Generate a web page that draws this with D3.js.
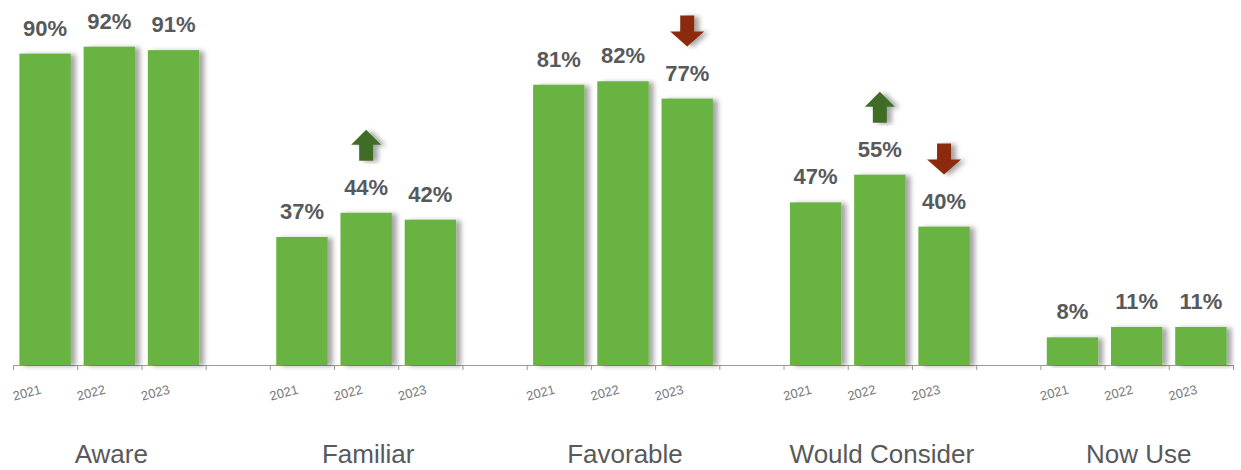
<!DOCTYPE html>
<html>
<head>
<meta charset="utf-8">
<script src="https://cdn.jsdelivr.net/npm/d3@7"></script>
<style>
  body { margin: 0; background: #fff; }
  svg { display: block; font-family: "Liberation Sans", Arial, sans-serif; }
</style>
</head>
<body>
<svg id="chart" width="1241" height="470"></svg>
<script>
const categories = ["Aware", "Familiar", "Favorable", "Would Consider", "Now Use"];
const years      = ["2021", "2022", "2023"];
const v2021      = [90, 37, 81, 47, 8];
const v2022      = [92, 44, 82, 55, 11];
const v2023      = [91, 42, 77, 40, 11];
const arrows     = [
  {cat: "Familiar",       year: "2022", dir: "up"},
  {cat: "Favorable",      year: "2023", dir: "down"},
  {cat: "Would Consider", year: "2022", dir: "up"},
  {cat: "Would Consider", year: "2023", dir: "down"}
];

const svg    = d3.select("#chart"),
      left   = 13,
      right  = 1233,
      base   = 365,
      barCol = "#68b342";

// one slot per year bar, one empty slot between categories
const slots = [];
categories.forEach((c, i) => {
  years.forEach(y => slots.push(c + "|" + y));
  if (i < categories.length - 1) slots.push("gap" + i);
});

const x = d3.scaleBand().domain(slots).range([left, right]).padding(0);
const y = d3.scaleLinear().domain([0, 100]).range([base, base - 346]);
const xi = d3.scaleLinear().domain([0, slots.length]).range([left, right]);

const series = {"2021": v2021, "2022": v2022, "2023": v2023};
const data = [];
categories.forEach((c, i) => {
  years.forEach(yr => data.push({cat: c, year: yr, value: series[yr][i]}));
});

const defs = svg.append("defs");
const f = defs.append("filter").attr("id", "shadow")
  .attr("x", "-20%").attr("y", "-10%").attr("width", "150%").attr("height", "120%");
f.append("feDropShadow")
  .attr("dx", 5).attr("dy", 1).attr("stdDeviation", 2.5)
  .attr("flood-color", "#000").attr("flood-opacity", 0.35);

// axis line with ticks at slot boundaries
const axis = svg.append("g")
  .attr("transform", `translate(0,${base})`)
  .call(d3.axisBottom(xi).tickValues(d3.range(slots.length + 1))
    .tickFormat("").tickSize(5).tickSizeOuter(0));
axis.select(".domain").attr("stroke", "#9a9a9a");
axis.selectAll(".tick line").attr("stroke", "#9a9a9a");

const bw = x.bandwidth() * 0.8;

svg.append("g").selectAll("rect")
  .data(data)
  .enter().append("rect")
    .attr("x", d => x(d.cat + "|" + d.year) + x.bandwidth() * 0.1)
    .attr("y", d => y(d.value))
    .attr("width", bw)
    .attr("height", d => base - y(d.value))
    .attr("fill", barCol)
    .attr("filter", "url(#shadow)");

// value labels
svg.append("g").selectAll("text")
  .data(data)
  .enter().append("text")
    .attr("x", d => x(d.cat + "|" + d.year) + x.bandwidth() / 2)
    .attr("y", d => y(d.value) - 18)
    .attr("text-anchor", "middle")
    .style("font-size", "22px")
    .style("font-weight", "bold")
    .attr("fill", "#58595b")
    .text(d => d.value + "%");

// year tick labels
svg.append("g").selectAll("text")
  .data(data)
  .enter().append("text")
    .attr("transform", d => {
      const cx = x(d.cat + "|" + d.year) + x.bandwidth() / 2 - 17;
      return `translate(${cx},397) rotate(-15)`;
    })
    .attr("text-anchor", "middle")
    .style("font-size", "13px")
    .attr("fill", "#77787b")
    .text(d => d.year);

// category labels
svg.append("g").selectAll("text")
  .data(categories)
  .enter().append("text")
    .attr("x", c => x(c + "|2022") + x.bandwidth() / 2 + 2)
    .attr("y", 463)
    .attr("text-anchor", "middle")
    .style("font-size", "26px")
    .attr("fill", "#58595b")
    .text(c => c);

// change arrows
const arrowPath = dir => dir === "up"
  ? "M0,-31 L15,-16 L7,-16 L7,0 L-7,0 L-7,-16 L-15,-16 Z"
  : "M-7,-31 L7,-31 L7,-15 L17,-15 L0,0 L-17,-15 L-7,-15 Z";

svg.append("g").selectAll("path")
  .data(arrows)
  .enter().append("path")
    .attr("transform", a => {
      const v = series[a.year][categories.indexOf(a.cat)];
      const cx = x(a.cat + "|" + a.year) + x.bandwidth() / 2;
      return `translate(${cx},${y(v) - 52})`;
    })
    .attr("d", a => arrowPath(a.dir))
    .attr("fill", a => a.dir === "up" ? "#3f6d27" : "#8b2a0c")
    .attr("filter", "url(#shadow)");
</script>
</body>
</html>
